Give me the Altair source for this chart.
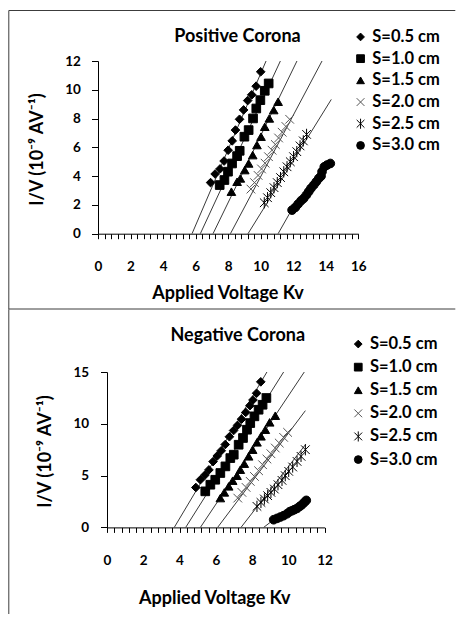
import altair as alt
import pandas as pd

series = ["S=0.5 cm", "S=1.0 cm", "S=1.5 cm", "S=2.0 cm", "S=2.5 cm", "S=3.0 cm"]

# ---------------- Positive corona (points) ----------------
pos_x_05 = [6.92, 7.20, 7.50, 7.75, 8.00, 8.25, 8.45, 8.70, 8.95, 9.20, 9.45, 9.72, 10.00]
pos_y_05 = [3.55, 4.15, 4.50, 5.05, 5.80, 6.45, 7.20, 7.95, 8.60, 9.25, 9.65, 10.25, 11.25]
pos_x_10 = [7.48, 7.77, 7.99, 8.24, 8.55, 8.71, 9.00, 9.26, 9.53, 9.73, 9.98, 10.25, 10.49]
pos_y_10 = [3.38, 3.73, 4.31, 4.88, 5.39, 5.76, 6.74, 7.20, 8.01, 8.70, 9.28, 9.93, 10.44]
pos_x_15 = [8.20, 8.55, 8.75, 9.02, 9.26, 9.51, 9.77, 10.02, 10.25, 10.53, 10.80, 11.07]
pos_y_15 = [2.92, 3.61, 3.84, 4.42, 4.88, 5.46, 6.16, 6.74, 7.43, 8.01, 8.59, 9.17]
pos_x_20 = [9.40, 9.62, 9.84, 10.05, 10.27, 10.48, 10.70, 10.90, 11.10, 11.32, 11.55, 11.78]
pos_y_20 = [3.10, 3.55, 4.05, 4.50, 4.90, 5.35, 5.80, 6.20, 6.65, 7.05, 7.45, 7.95]
pos_x_25 = [10.22, 10.42, 10.62, 10.82, 11.02, 11.22, 11.42, 11.62, 11.82, 12.02, 12.22, 12.42, 12.62, 12.82]
pos_y_25 = [2.15, 2.50, 2.85, 3.20, 3.55, 3.90, 4.30, 4.65, 5.00, 5.35, 5.70, 6.10, 6.45, 6.90]
pos_x_30 = [11.93, 12.13, 12.30, 12.48, 12.64, 12.81, 12.95, 13.09, 13.26, 13.42, 13.57, 13.71, 13.77, 13.91, 14.08, 14.28]
pos_y_30 = [1.64, 1.83, 2.06, 2.29, 2.45, 2.69, 2.92, 3.15, 3.38, 3.61, 3.84, 4.00, 4.31, 4.65, 4.77, 4.88]

# Positive corona fitted lines (start at y=0, end point)
pos_line_x0 = [5.78, 6.29, 7.07, 8.14, 9.22, 11.07]
pos_line_x1 = [10.33, 11.21, 12.23, 13.77, 14.34, 12.00]
pos_line_y1 = [12.0, 12.0, 12.0, 12.0, 9.33, 1.85]

# ---------------- Negative corona (points) ----------------
neg_x_05 = [4.90, 5.15, 5.40, 5.62, 5.85, 6.08, 6.30, 6.52, 6.75, 6.98, 7.20, 7.42, 7.65, 7.88, 8.05, 8.25, 8.48]
neg_y_05 = [3.85, 4.60, 5.05, 5.55, 6.35, 6.90, 7.40, 8.00, 8.75, 9.35, 9.85, 10.45, 11.10, 11.75, 12.30, 12.95, 14.05]
neg_x_10 = [5.42, 5.70, 5.97, 6.25, 6.53, 6.80, 6.99, 7.26, 7.50, 7.72, 7.90, 8.13, 8.36, 8.58, 8.79]
neg_y_10 = [3.48, 4.12, 4.60, 5.25, 5.89, 6.69, 7.02, 7.98, 8.63, 9.43, 10.07, 10.72, 11.36, 11.84, 12.49]
neg_x_15 = [6.25, 6.47, 6.71, 6.93, 7.17, 7.35, 7.57, 7.81, 8.03, 8.27, 8.49, 8.73, 8.97, 9.28]
neg_y_15 = [2.83, 3.38, 3.96, 4.51, 4.99, 5.57, 6.15, 6.86, 7.50, 8.21, 8.79, 9.43, 10.14, 10.78]
neg_x_20 = [7.21, 7.44, 7.67, 7.90, 8.13, 8.36, 8.58, 8.82, 9.04, 9.28, 9.50, 9.74, 9.96]
neg_y_20 = [2.83, 3.38, 3.86, 4.44, 4.92, 5.47, 6.05, 6.60, 7.11, 7.66, 8.14, 8.69, 9.17]
neg_x_25 = [8.27, 8.49, 8.68, 8.86, 9.04, 9.23, 9.43, 9.65, 9.83, 10.02, 10.24, 10.48, 10.70, 10.94]
neg_y_25 = [2.03, 2.41, 2.74, 3.06, 3.38, 3.70, 4.12, 4.54, 4.99, 5.41, 5.83, 6.37, 6.86, 7.50]
neg_x_30 = [9.19, 9.38, 9.56, 9.74, 9.93, 10.07, 10.20, 10.33, 10.48, 10.63, 10.75, 10.88, 10.99]
neg_y_30 = [0.74, 0.87, 1.00, 1.13, 1.32, 1.51, 1.61, 1.71, 1.83, 2.03, 2.19, 2.41, 2.61]

neg_line_x0 = [3.71, 4.34, 5.15, 6.10, 7.39, 8.64]
neg_line_x1 = [8.82, 9.74, 10.88, 10.94, 10.94, 9.19]
neg_line_y1 = [15.0, 15.0, 15.0, 11.27, 7.98, 0.74]


def points_df(xs, ys):
    rows = []
    for s, xl, yl in zip(series, xs, ys):
        for xv, yv in zip(xl, yl):
            rows.append({"series": s, "x": xv, "y": yv})
    return pd.DataFrame(rows)


def lines_df(x0, x1, y1):
    rows = []
    for s, a, b, c in zip(series, x0, x1, y1):
        rows.append({"series": s, "x": a, "y": 0.0})
        rows.append({"series": s, "x": b, "y": c})
    return pd.DataFrame(rows)


pos_pts = points_df([pos_x_05, pos_x_10, pos_x_15, pos_x_20, pos_x_25, pos_x_30],
                    [pos_y_05, pos_y_10, pos_y_15, pos_y_20, pos_y_25, pos_y_30])
neg_pts = points_df([neg_x_05, neg_x_10, neg_x_15, neg_x_20, neg_x_25, neg_x_30],
                    [neg_y_05, neg_y_10, neg_y_15, neg_y_20, neg_y_25, neg_y_30])
pos_lines = lines_df(pos_line_x0, pos_line_x1, pos_line_y1)
neg_lines = lines_df(neg_line_x0, neg_line_x1, neg_line_y1)

X_PATH = "M-1,-1L1,1M-1,1L1,-1"
AST_PATH = "M-1,-1L1,1M-1,1L1,-1M0,-1.3L0,1.3"
shape_range = ["diamond", "square", "triangle-up", X_PATH, AST_PATH, "circle"]
fill_range = ["black", "black", "black", "black", "black", "black"]
stroke_range = ["black", "black", "black", "#555555", "black", "black"]

FONT = "Lato"
FRAME = "#3c3c3c"
one = pd.DataFrame({"k": [0]})


def panel(pts, lns, xmax, ymax, ystep, width, height, xshift, title, title_pos,
          xlab_pad, xtitle_pos, ylab_pad, ytitle_pos, legend_pos, legend_rowpad, frame_rules):
    xticks = [round(i * 0.4, 1) for i in range(int(round(xmax / 0.4)) + 1)]
    yticks = list(range(0, ymax + 1, ystep))
    xscale = alt.Scale(domain=[0, xmax], range=[xshift, width], nice=False, zero=False)
    yscale = alt.Scale(domain=[0, ymax], nice=False, zero=False)
    xaxis = alt.Axis(values=xticks,
                     labelExpr="abs(datum.value % 2) < 0.001 ? format(datum.value, 'd') : ''",
                     ticks=True, tickSize=5, labelPadding=xlab_pad, labelBaseline="middle",
                     labelOverlap=False, labelFlush=False, grid=False,
                     title="Applied Voltage Kv", titleX=xtitle_pos[0], titleY=xtitle_pos[1],
                     titleBaseline="middle")
    yaxis = alt.Axis(values=yticks, ticks=True, tickSize=6.5, labelPadding=ylab_pad,
                     labelOverlap=False, labelFlush=False, grid=False, offset=-xshift,
                     title="I/V (10⁻⁹ AV⁻¹)", titleX=ytitle_pos[0], titleY=ytitle_pos[1],
                     titleBaseline="middle", titleAngle=270)
    leg = alt.Legend(orient="none", legendX=legend_pos[0], legendY=legend_pos[1],
                     title=None, padding=0, labelFont=FONT, labelFontSize=16.5,
                     labelFontWeight="bold", labelColor="black",
                     symbolStrokeWidth=1, symbolOpacity=1, symbolSize=60,
                     rowPadding=legend_rowpad, labelOffset=3.5)

    lines = alt.Chart(lns).mark_line(color="#3a3a3a", strokeWidth=1).encode(
        x=alt.X("x:Q", scale=xscale, axis=xaxis),
        y=alt.Y("y:Q", scale=yscale, axis=yaxis),
        detail="series:N",
    )
    pts_layer = alt.Chart(pts).mark_point(strokeWidth=1, opacity=1, size=75).encode(
        x=alt.X("x:Q", scale=xscale, axis=xaxis),
        y=alt.Y("y:Q", scale=yscale, axis=yaxis),
        shape=alt.Shape("series:N", scale=alt.Scale(domain=series, range=shape_range), legend=leg),
        fill=alt.Fill("series:N", scale=alt.Scale(domain=series, range=fill_range), legend=leg),
        stroke=alt.Stroke("series:N", scale=alt.Scale(domain=series, range=stroke_range), legend=leg),
    )
    ttl = alt.Chart(one).mark_text(text=title, font=FONT, fontSize=18, fontWeight="bold",
                                   align="center", baseline="middle", color="black").encode(
        x=alt.value(title_pos[0]), y=alt.value(title_pos[1]))
    rules = []
    for r in frame_rules:
        enc = {k: alt.value(v) for k, v in r.items()}
        rules.append(alt.Chart(one).mark_rule(color=FRAME, strokeWidth=1).encode(**enc))
    return alt.layer(*rules, lines, pts_layer, ttl).properties(width=width, height=height)


# top panel: plot origin at page (97.7, 61)
top_rules = [
    {"x": -89.2, "y": -50.5, "y2": 248.0},
    {"x": -89.2, "x2": 357.3, "y": -50.5},
    {"x": -89.2, "x2": 357.3, "y": 248.0},
]
# bottom panel: plot origin (x) shared with the top panel, plot area shifted 9 px right
bot_rules = [
    {"x": -89.2, "y": -62.8, "y2": 242.0},
]

top = panel(pos_pts, pos_lines, 16, 12, 2, 260.3, 172.7, 0, "Positive Corona", (139.5, -24),
            27.3, (129.5, 59.6), 11.2, (-60.7, 88), (254.3, -32.3), 4.7, top_rules)
bottom = panel(neg_pts, neg_lines, 12, 15, 5, 226.6, 155.4, 9, "Negative Corona", (139.8, -35.6),
               28, (116.3, 71), 11.9, (-61.7, 79), (252.0, -36.2), 6.1, bot_rules)

chart = alt.vconcat(top, bottom, spacing=-2, padding={"left": 0, "top": 2, "right": 0, "bottom": 0}).resolve_scale(
    x="independent", y="independent", shape="independent", fill="independent", stroke="independent"
).resolve_legend(shape="independent", fill="independent", stroke="independent").configure_view(
    stroke=None
).configure_axis(
    labelFont=FONT, labelFontSize=13.5, labelFontWeight="bold", labelColor="black",
    titleFont=FONT, titleFontSize=18, titleFontWeight="bold", titleColor="black",
    domainColor="black", tickColor="black", domainWidth=1, tickWidth=1,
    ticks=True, labelOverlap=False,
)

chart.save("out.html", embed_options={"renderer": "svg", "actions": False})
